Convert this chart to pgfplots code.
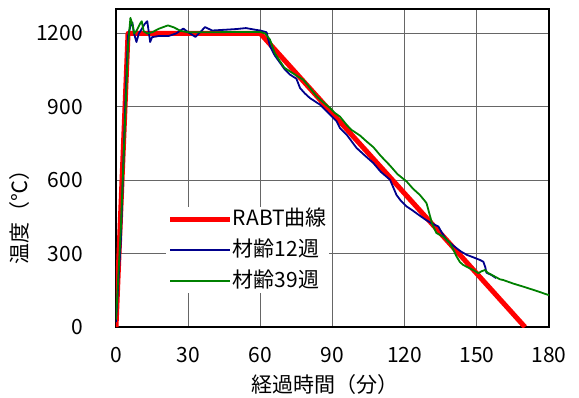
\documentclass[border=0pt]{standalone}
\usepackage{fontspec}
\setmainfont{Noto Sans CJK JP}
\usepackage{pgfplots}
\pgfplotsset{compat=1.18}
\definecolor{rabt}{RGB}{255,0,0}
\definecolor{w12}{RGB}{0,0,140}
\definecolor{w39}{RGB}{0,128,0}
\begin{document}
\begin{tikzpicture}
\begin{axis}[
  scale only axis, width=433bp, height=318bp,
  xmin=0, xmax=180, ymin=0, ymax=1300,
  xtick={0,30,...,180}, ytick={0,300,...,1200},
  grid=major, major grid style={black!60, line width=1bp},
  axis line style={black, line width=2.5bp},
  major tick length=0pt,
  /pgf/number format/assume math mode=true,
  /pgf/number format/1000 sep={},
  every tick label/.append style={font=\fontsize{21bp}{24bp}\selectfont, inner sep=0pt},
  yticklabel style={anchor=east, xshift=-33bp},
  xticklabel style={anchor=north, yshift=-20bp},
  legend style={at={(0.115,0.377)}, anchor=north west, fill=white, draw=none,
    font=\fontsize{21bp}{24bp}\selectfont, inner sep=2bp,
    nodes={inner sep=0pt, text height=16bp, text depth=4bp}, row sep=11bp},
  legend cell align=left,
  legend image code/.code={\draw[#1] (0bp,0bp) -- (60bp,0bp);},
  /tikz/every even column/.append style={column sep=7bp},
]
\addplot[rabt, line width=5bp, line join=round] coordinates {(0,0) (5,1200) (60,1200) (170,0)};
\addlegendentry{RABT曲線}
\addplot[w12, line width=1.8bp, line join=round] coordinates {
(0,20) (2,350) (4,950) (5,1190) (6,1230) (6.8,1245) (7.5,1200) (8.5,1165) (9.5,1200)
(10.5,1215) (12,1240) (13,1250) (13.7,1200) (14.2,1165) (15,1185) (18,1190) (22,1190)
(25,1200) (28,1220) (30,1205) (33,1186) (35,1205) (37,1226) (40,1212) (45,1215) (50,1218)
(54,1222) (58,1215) (60,1212) (62.6,1205) (64,1148) (66,1110) (68.2,1080) (70,1055)
(72.3,1032) (75,1015) (76.5,977) (78.5,955) (80.6,936) (84.8,909) (87.6,882) (91.7,841)
(93.1,813) (95.9,786) (100,732) (103,705) (107,670) (110,635) (113.9,602) (116.6,540)
(118.5,515) (120.8,493) (123.5,475) (126.3,455) (128.5,440) (130.5,428) (132,420)
(134,411) (135.5,385) (137.4,356) (139.5,338) (141.6,322) (143.5,308) (145.8,295)
(148.5,285) (151.3,274) (152.7,267) (153.5,245) (154,222) (156,213) (158,200)};
\addlegendentry{材齢12週}
\addplot[w39, line width=1.8bp, line join=round] coordinates {
(0,30) (2,400) (4,900) (5,1150) (6,1264) (7,1230) (7.5,1200) (8.5,1210) (10,1240)
(10.7,1250) (11.5,1209) (13,1200) (15,1205) (18,1220) (21.6,1233) (24,1225) (27,1210)
(30,1205) (40,1205) (50,1206) (60,1206) (62,1200) (64,1175) (66,1120) (68.2,1086)
(70,1060) (72.3,1045) (75,1028) (77.8,1011) (80,985) (83.4,943) (86,920) (88.9,896)
(91,875) (93.1,860) (96,825) (98,805) (101.4,783) (104,760) (107,735) (110,700)
(113.9,660) (117,625) (120.8,595) (123.5,565) (126.3,540) (128,520) (129.1,506)
(130.5,455) (131.5,420) (133.2,384) (136,370) (138.8,343) (140,320) (141.6,288)
(143,265) (144.3,254) (146,245) (148.5,233) (150.6,220) (152,228) (153.4,233)
(154.5,222) (156.2,213) (159.6,195) (161,192) (165,178) (169.3,165) (175,147)
(179.7,131) (180,130)};
\addlegendentry{材齢39週}
\end{axis}
\node[font=\fontsize{21bp}{24bp}\selectfont, anchor=center] at (209bp,-58bp) {経過時間（分）};
\node[font=\fontsize{21bp}{24bp}\selectfont, anchor=center, rotate=90] at (-96bp,115bp) {温度（℃）};
\pgfresetboundingbox
\path (-116bp,-71bp) rectangle (463bp,327bp);
\end{tikzpicture}
\end{document}
